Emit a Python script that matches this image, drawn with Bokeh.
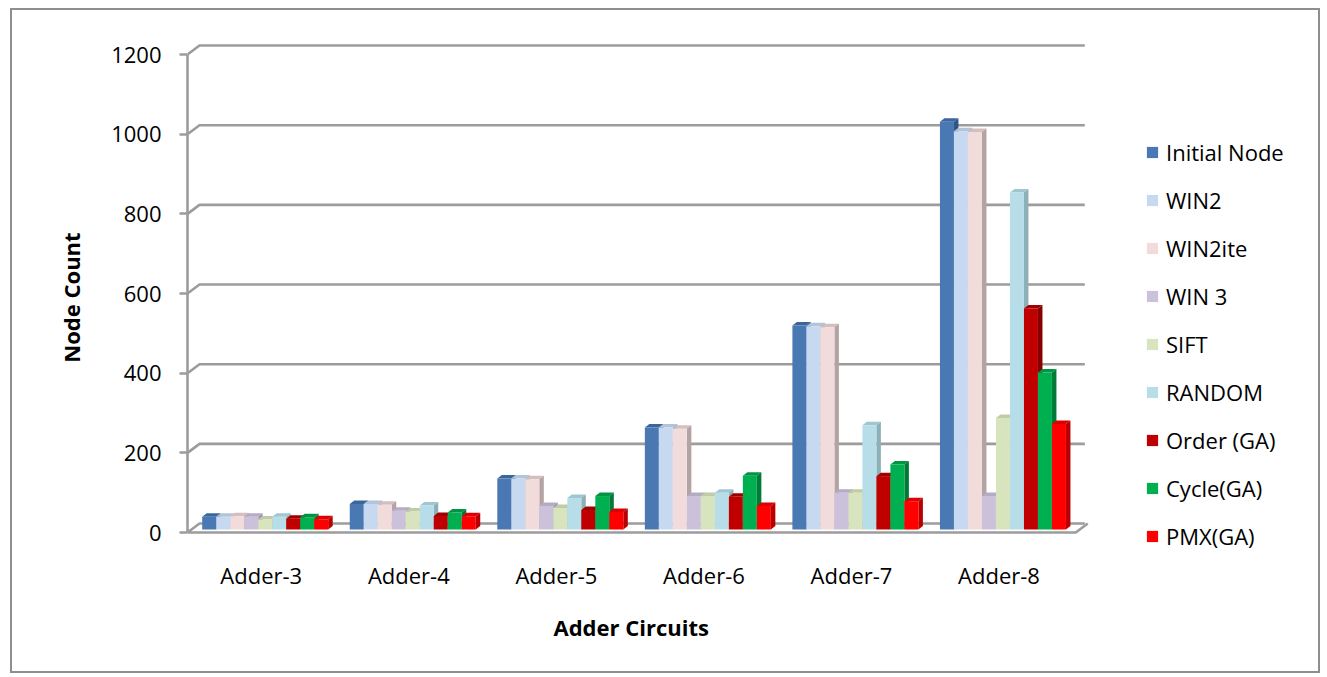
from bokeh.plotting import figure
from bokeh.models import (Range1d, LinearAxis, FixedTicker, Legend, LegendItem,
                          ColumnDataSource, Title)
from bokeh.embed import file_html
from bokeh.resources import INLINE

# ---------------- data ----------------
categories = ["Adder-3", "Adder-4", "Adder-5", "Adder-6", "Adder-7", "Adder-8"]
series_names = ["Initial Node", "WIN2", "WIN2ite", "WIN 3", "SIFT", "RANDOM",
                "Order (GA)", "Cycle(GA)", "PMX(GA)"]
initial_node = [32, 64, 128, 256, 512, 1024]
win2 = [32, 64, 128, 256, 510, 1000]
win2ite = [33, 62, 126, 253, 508, 998]
win3 = [32, 47, 59, 84, 92, 84]
sift = [25, 45, 54, 84, 92, 280]
random_ = [32, 60, 79, 92, 262, 846]
order_ga = [27, 34, 49, 82, 134, 555]
cycle_ga = [31, 43, 84, 135, 163, 394]
pmx_ga = [26, 33, 44, 59, 71, 265]
series_values = [initial_node, win2, win2ite, win3, sift, random_, order_ga, cycle_ga, pmx_ga]
y_ticks = [0, 200, 400, 600, 800, 1000, 1200]

# ---------------- styles ----------------
front_colors = ["#4A78B2", "#C6D9F1", "#F2DCDB", "#CCC1DA", "#D7E4BD", "#B7DEE8",
                "#C00000", "#00B050", "#FF0000"]
side_colors = ["#2F5689", "#9DAEC4", "#B3A3A2", "#9E95AA", "#A8B393", "#8DAFB8",
               "#860000", "#007A37", "#B80000"]
top_colors = ["#3A669E", "#B2C4DA", "#D2BFBE", "#B5ABC4", "#C0CCA6", "#A0C6D0",
              "#A00000", "#009544", "#DD0000"]
GRID = "#9C9C9C"
FONT = "Open Sans"
FS = "22px"

n_cat = len(categories)
FRAME_W, FRAME_H = 1133.0, 510.0
CAT_PX = 147.55
x_end = FRAME_W / CAT_PX
y_start, y_end = -50.2, 1230.2

p = figure(width=1310, height=665, x_range=Range1d(0, x_end), y_range=Range1d(y_start, y_end),
           output_backend="svg", toolbar_location=None, x_axis_type=None, y_axis_type=None,
           min_border_left=175, min_border_right=2, min_border_top=32, min_border_bottom=123)
p.outline_line_color = None
p.background_fill_color = "white"
p.border_fill_color = "white"
p.styles = {"border": "2px solid #8E8E8E", "margin-left": "10px", "margin-top": "8px"}

# pixel -> data conversions for 3D offsets
px_x = FRAME_W / x_end
px_y = FRAME_H / (y_end - y_start)
wall_dx = 12 / px_x
wall_dy = 9 / px_y
bar_dx = 4.5 / px_x
bar_dy = 3.5 / px_y
bar_w = 14 / px_x
group_off = 14.7 / px_x
bar_base = 3 / px_y

# back wall gridlines
gx, gy = [], []
for v in y_ticks:
    gx.append([0, wall_dx, n_cat + wall_dx])
    gy.append([v, v + wall_dy, v + wall_dy])
p.multi_line(gx, gy, line_color=GRID, line_width=2.6)
# floor front edge
p.line([0, n_cat + 0.02, n_cat + 0.02 + wall_dx], [0, 0, wall_dy], line_color=GRID, line_width=2.6)

# bars
fr = dict(left=[], right=[], bottom=[], top=[], color=[])
pa = dict(xs=[], ys=[], color=[])
for i in range(n_cat):
    for j in range(len(series_names)):
        v = series_values[j][i]
        xl = i + group_off + j * bar_w
        xr = xl + bar_w
        y0 = bar_base
        y1 = bar_base + v
        fr["left"].append(xl); fr["right"].append(xr)
        fr["bottom"].append(y0); fr["top"].append(y1)
        fr["color"].append(front_colors[j])
        pa["xs"].append([xl, xr, xr + bar_dx, xl + bar_dx])
        pa["ys"].append([y1, y1, y1 + bar_dy, y1 + bar_dy])
        pa["color"].append(top_colors[j])
        pa["xs"].append([xr, xr + bar_dx, xr + bar_dx, xr])
        pa["ys"].append([y0, y0 + bar_dy, y1 + bar_dy, y1])
        pa["color"].append(side_colors[j])

p.patches("xs", "ys", source=ColumnDataSource(pa), fill_color="color", line_color=None)
fronts = p.quad(left="left", right="right", bottom="bottom", top="top",
                source=ColumnDataSource(fr), fill_color="color", line_color=None)

# axes
yaxis = LinearAxis(ticker=FixedTicker(ticks=y_ticks), bounds=(0, 1200))
yaxis.axis_line_color = GRID
yaxis.axis_line_width = 2.6
yaxis.major_tick_line_color = GRID
yaxis.major_tick_line_width = 2.6
yaxis.major_tick_out = 8
yaxis.major_tick_in = 0
yaxis.minor_tick_line_color = None
yaxis.major_label_text_font = FONT
yaxis.major_label_text_font_size = FS
yaxis.major_label_text_color = "black"
yaxis.major_label_standoff = 18
yaxis.axis_label = "Node Count"
yaxis.axis_label_text_font = FONT
yaxis.axis_label_text_font_size = FS
yaxis.axis_label_text_font_style = "bold"
yaxis.axis_label_text_color = "black"
yaxis.axis_label_standoff = 22
p.add_layout(yaxis, "left")

xaxis = LinearAxis(ticker=FixedTicker(ticks=[i + 0.5 for i in range(n_cat)]),
                   major_label_overrides={i + 0.5: c for i, c in enumerate(categories)},
                   bounds=(0, n_cat))
xaxis.axis_line_color = None
xaxis.major_tick_line_color = None
xaxis.major_tick_out = 0
xaxis.major_tick_in = 0
xaxis.minor_tick_line_color = None
xaxis.major_label_text_font = FONT
xaxis.major_label_text_font_size = FS
xaxis.major_label_text_color = "black"
xaxis.major_label_standoff = 7
p.add_layout(xaxis, "below")

# x-axis title, centred under the category area (not under the legend)
xtitle = Title(text="Adder Circuits", align="left", offset=366, standoff=35,
               text_font=FONT, text_font_size=FS, text_font_style="bold", text_color="black")
p.add_layout(xtitle, "below")

# legend (inside the wide frame, right of the walls)
items = [LegendItem(label=name, renderers=[fronts], index=j) for j, name in enumerate(series_names)]
legend = Legend(items=items, location=(958, 1), orientation="vertical")
legend.glyph_width = 14
legend.glyph_height = 14
legend.label_height = 30
legend.spacing = 18
legend.padding = 0
legend.margin = 0
legend.label_standoff = 7
legend.border_line_color = None
legend.background_fill_alpha = 0
legend.label_text_font = FONT
legend.label_text_font_size = FS
legend.label_text_color = "black"
p.add_layout(legend)

open("out.html", "w").write(file_html(p, INLINE))
